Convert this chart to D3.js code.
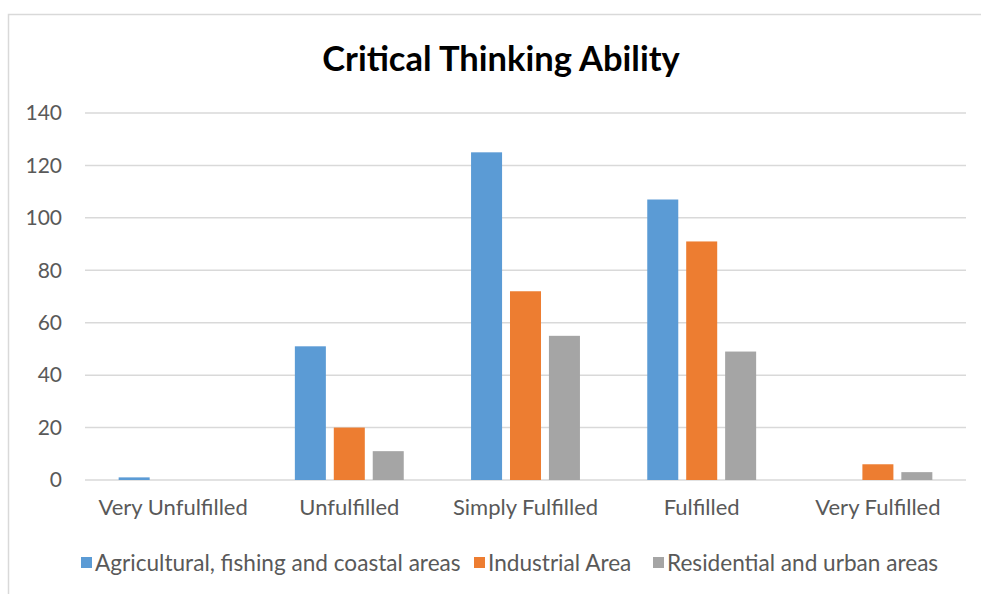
<!DOCTYPE html>
<html>
<head>
<meta charset="utf-8">
<script src="https://cdn.jsdelivr.net/npm/d3@7"></script>
<style>
  body { margin: 0; background: #fff; }
  text { font-family: Lato, "Open Sans", sans-serif; }
</style>
</head>
<body>
<div id="chart"></div>
<script>
var categories = ["Very Unfulfilled", "Unfulfilled", "Simply Fulfilled", "Fulfilled", "Very Fulfilled"]
var seriesNames = ["Agricultural, fishing and coastal areas", "Industrial Area", "Residential and urban areas"]
var agriValues = [1, 51, 125, 107, 0]
var industrialValues = [0, 20, 72, 91, 6]
var residentialValues = [0, 11, 55, 49, 3]
var yTicks = [0, 20, 40, 60, 80, 100, 120, 140]
var colors = ["#5b9bd5", "#ed7d31", "#a5a5a5"]

var width = 981, height = 594;
var margin = {top: 113, right: 15, bottom: 114, left: 85};

var svg = d3.select("#chart").append("svg")
  .attr("width", width)
  .attr("height", height);

// chart frame
svg.append("rect")
  .attr("x", 8.5).attr("y", 14.5)
  .attr("width", width).attr("height", height)
  .attr("fill", "none")
  .attr("stroke", "#d9d9d9")
  .attr("stroke-width", 1.5);

var allSeries = [agriValues, industrialValues, residentialValues];

var x = d3.scaleBand()
  .domain(categories)
  .range([margin.left, width - margin.right]);

var y = d3.scaleLinear()
  .domain([0, 140])
  .range([height - margin.bottom, margin.top]);

// gridlines
svg.append("g")
  .selectAll("line")
  .data(yTicks)
  .enter()
  .append("line")
  .attr("x1", margin.left)
  .attr("x2", width - margin.right)
  .attr("y1", function(d) { return y(d); })
  .attr("y2", function(d) { return y(d); })
  .attr("stroke", "#d9d9d9")
  .attr("stroke-width", 1.5);

// y tick labels
var yAxis = d3.axisLeft(y).tickValues(yTicks).tickSize(0).tickPadding(23);
var yG = svg.append("g")
  .attr("transform", "translate(" + margin.left + ",0)")
  .call(yAxis);
yG.select(".domain").remove();
yG.selectAll("text")
  .attr("font-size", "21px")
  .attr("font-family", "Lato, sans-serif")
  .attr("fill", "#595959");

// bars
var bw = x.bandwidth() * 0.176;
var gap = x.bandwidth() * 0.045;
var inner = d3.scaleBand()
  .domain(d3.range(seriesNames.length))
  .range([0, bw * 3 + gap * 2])
  .paddingInner(gap / (bw + gap));

allSeries.forEach(function(vals, s) {
  svg.append("g")
    .selectAll("rect")
    .data(vals)
    .enter()
    .append("rect")
    .attr("x", function(d, i) {
      return x(categories[i]) + (x.bandwidth() - (bw * 3 + gap * 2)) / 2 + inner(s);
    })
    .attr("y", function(d) { return y(d); })
    .attr("width", inner.bandwidth())
    .attr("height", function(d) { return y(0) - y(d); })
    .attr("fill", colors[s]);
});

// x category labels
var xAxis = d3.axisBottom(x).tickSize(0).tickPadding(19);
var xG = svg.append("g")
  .attr("transform", "translate(0," + y(0) + ")")
  .call(xAxis);
xG.select(".domain").remove();
xG.selectAll("text")
  .attr("font-size", "22px")
  .attr("font-family", "Lato, sans-serif")
  .attr("fill", "#595959");

// title
svg.append("text")
  .attr("x", 501)
  .attr("y", 71)
  .attr("text-anchor", "middle")
  .attr("font-size", "34.5px")
  .attr("font-weight", "bold")
  .attr("fill", "#000")
  .text("Critical Thinking Ability");

// legend
var legendX = [81, 474, 653];
var legend = svg.append("g").selectAll("g")
  .data(seriesNames)
  .enter()
  .append("g")
  .attr("transform", function(d, i) { return "translate(" + legendX[i] + ",563)"; });

legend.append("rect")
  .attr("x", 0).attr("y", -6)
  .attr("width", 11).attr("height", 11)
  .attr("fill", function(d, i) { return colors[i]; });

legend.append("text")
  .attr("x", 14)
  .attr("y", 8)
  .attr("font-size", "22.6px")
  .attr("fill", "#595959")
  .text(function(d) { return d; });
</script>
</body>
</html>
